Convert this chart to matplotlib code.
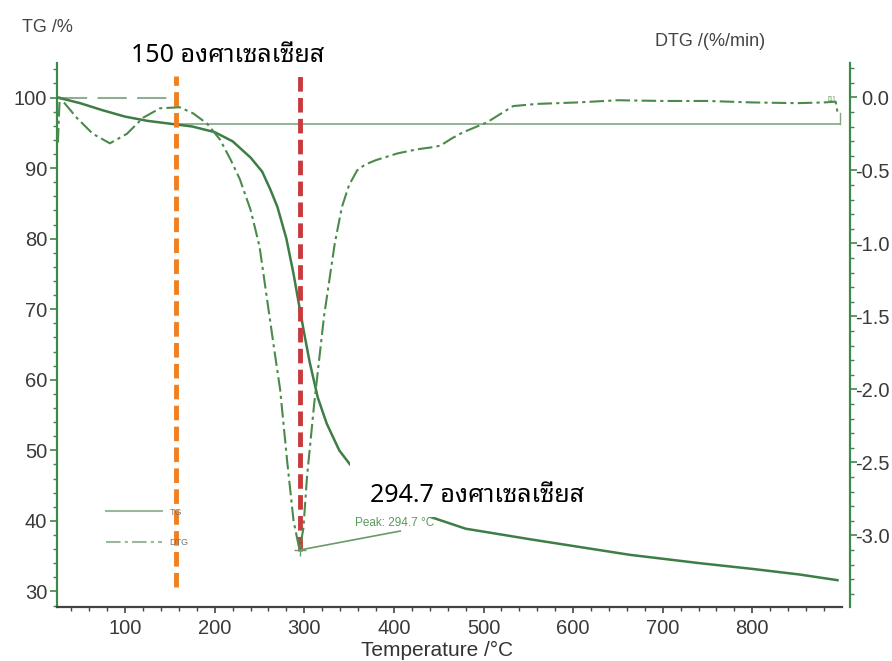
import numpy as np
import matplotlib
matplotlib.use("Agg")
import matplotlib.pyplot as plt
from matplotlib.patches import Rectangle
from matplotlib.lines import Line2D

# TG curve (%)
tg_T = [25, 50, 75, 100, 125, 150, 175, 200, 220, 240, 253, 262, 270, 280, 288, 295,
        300, 306, 315, 325, 339, 351, 380, 410, 440, 480, 552, 663, 742, 800, 853, 895]
tg_v = [100.0, 99.2, 98.2, 97.3, 96.7, 96.3, 95.9, 95.1, 93.8, 91.5, 89.5, 87.0, 84.5,
        80.0, 75.0, 70.0, 66.5, 62.5, 57.5, 53.8, 50.0, 48.0, 45.0, 42.6, 40.6, 38.9,
        37.4, 35.2, 34.0, 33.2, 32.4, 31.6]

# DTG curve (%/min)
dtg_T = [25, 27, 46, 64, 83, 102, 120, 139, 161, 176, 191.5, 206, 218, 228, 240, 250,
         260, 267, 273, 281, 288, 294.7, 299, 303, 311, 322, 334, 342, 350, 359, 368,
         380, 404, 426, 445, 452, 465, 477, 504, 533, 560, 605, 650, 700, 750, 800,
         850, 880, 893, 895]
dtg_v = [-0.31, 0.0, -0.14, -0.25, -0.315, -0.25, -0.14, -0.075, -0.068, -0.11, -0.18,
         -0.29, -0.43, -0.56, -0.77, -1.02, -1.45, -1.75, -2.0, -2.5, -2.9, -3.10, -2.95,
         -2.6, -2.1, -1.5, -1.0, -0.75, -0.6, -0.5, -0.46, -0.43, -0.384, -0.356, -0.34,
         -0.33, -0.28, -0.24, -0.171, -0.06, -0.045, -0.035, -0.02, -0.025, -0.025,
         -0.035, -0.04, -0.035, -0.03, -0.1]

peak_T = 294.7
peak_v = -3.10
onset_T = 157
green = '#3e7d46'
axgreen = '#3f8a4a'
grey = '#3a3a3a'

plt.rcParams['font.family'] = ['Liberation Sans', 'DejaVu Sans']
thai = ['Noto Sans Thai Looped', 'DejaVu Sans']

fig = plt.figure(figsize=(8.92, 6.61), dpi=100)
ax = fig.add_axes([57/892, 1-607/661, (850-57)/892, (607-63)/661])
ax2 = ax.twinx()

ax.plot(tg_T, tg_v, color=green, lw=1.8, zorder=3)
ax2.plot(dtg_T, dtg_v, color='#4a8a4a', lw=1.5, ls=(0, (7, 2, 1.5, 2)), zorder=3)

# reference lines from the instrument software
ax.plot([25, 160], [100, 100], color='#8fae8f', lw=1.5, ls=(0, (14, 5)))
ax.plot([150, 898], [96.3, 96.3], color='#7fa882', lw=1.2)
ax.plot([898, 898], [96.3, 97.8], color='#7fa882', lw=1.0)

ax.set_xlim(24, 909)
ax.set_ylim(27.8, 104.9)
ax2.set_ylim(-3.49, 0.235)

ax.set_xticks(np.arange(100, 801, 100))
ax.set_xticks(np.arange(40, 900, 20), minor=True)
ax.set_yticks(np.arange(30, 101, 10))
ax.set_yticks(np.arange(28, 105, 2), minor=True)
ax2.set_yticks(np.arange(-3.0, 0.01, 0.5))
ax2.set_yticks(np.arange(-3.4, 0.21, 0.1), minor=True)
ax2.set_yticklabels(['%.1f' % v for v in np.arange(-3.0, 0.01, 0.5)], ha='right')

for a in (ax, ax2):
    a.spines['top'].set_visible(False)
ax.spines['right'].set_visible(False)
ax.spines['left'].set_color(axgreen)
ax2.spines['right'].set_color(axgreen)
ax2.spines['left'].set_visible(False)
ax2.spines['bottom'].set_visible(False)
ax.spines['bottom'].set_color('#444444')
ax.spines['bottom'].set_bounds(24, 900)
for s in ('left', 'bottom'):
    ax.spines[s].set_linewidth(1.6)
ax2.spines['right'].set_linewidth(1.6)

ax.tick_params(axis='y', which='major', colors=axgreen, labelcolor=grey, length=5, width=1.2,
               labelsize=14.5, pad=2)
ax.tick_params(axis='y', which='minor', colors=axgreen, length=3, width=1.0)
ax.tick_params(axis='x', which='major', colors='#444444', labelcolor=grey, length=4, width=1.2,
               labelsize=14.5, pad=5)
ax.tick_params(axis='x', which='minor', colors='#444444', length=3, width=1.0)
ax2.tick_params(axis='y', which='major', colors=axgreen, labelcolor=grey, length=5, width=1.2,
                labelsize=14.5, pad=23.5)
ax2.tick_params(axis='y', which='minor', colors=axgreen, length=3, width=1.0)

fig.text(22/892, 1-28/661, 'TG /%', fontsize=13, color='#444444', va='center', ha='left')
fig.text(655/892, 1-42/661, 'DTG /(%/min)', fontsize=13, color='#444444', va='center', ha='left')
fig.text(437/892, 1-650/661, 'Temperature /°C', fontsize=15, color='#333333', va='center', ha='center')

# peak marker
ax2.plot([peak_T, 407], [peak_v, -2.97], color='#6a9a6a', lw=1.2)
ax2.plot([peak_T], [peak_v], marker='+', color='#6a9a6a', ms=8)
ax2.text(357, -2.955, 'Peak: %.1f °C' % peak_T, fontsize=8.5, color='#5a9a5a', va='bottom')
ax2.text(893, -0.04, '[1]', fontsize=5, color='#5a9a5a', ha='right', va='bottom')

handles = [Line2D([], [], color='#9ab89a', lw=1.5),
           Line2D([], [], color='#9ab89a', lw=1.5, ls=(0, (7, 2, 1.5, 2)))]
ax2.legend(handles, ['TG', 'DTG'], loc='lower left', bbox_to_anchor=(0.052, 0.095), frameon=False,
           fontsize=6.5, handlelength=6.2, labelspacing=2.4, labelcolor='#777777')

# highlighted temperatures
ax.plot([onset_T, onset_T], [30.6, 103], color='#f07f20', lw=3.5, ls=(0, (3, 1.3)), zorder=5)
ax.plot([peak_T, peak_T], [35.7, 103], color='#c83a3c', lw=3.5, ls=(0, (3, 1.3)), zorder=5)

fig.text(228/892, 1-55/661, '150 องศาเซลเซียส', fontsize=18, family=thai,
         ha='center', va='center', color='black')
# white box under the second label hides part of the TG curve as in the original
ax.add_patch(Rectangle((0.3695, 0.165), 0.32, 0.115, transform=ax.transAxes, facecolor='white',
                       edgecolor='none', zorder=4))
ax.text((370-57)/793, 0.205, '294.7 องศาเซลเซียส', transform=ax.transAxes, fontsize=18, family=thai,
        ha='left', va='center', color='black', zorder=6)

fig.savefig('out.png', dpi=100)
